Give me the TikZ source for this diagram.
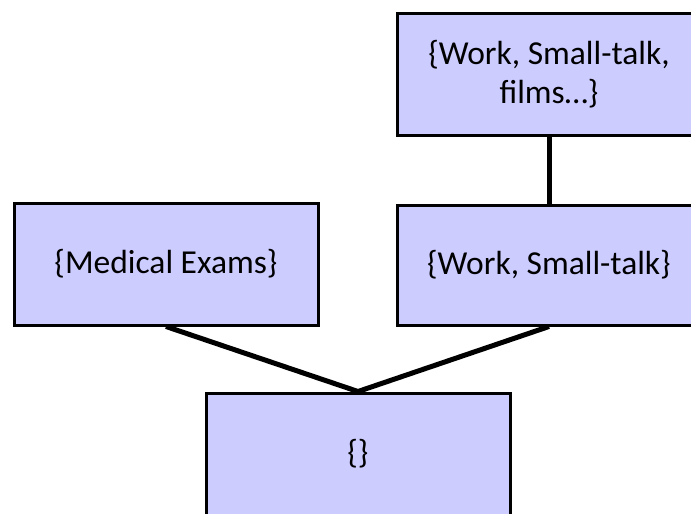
\documentclass[tikz,border=0pt]{standalone}
\usepackage{fontspec}
\setmainfont{Carlito}
\definecolor{setfill}{RGB}{204,204,255}
\begin{document}
\begin{tikzpicture}[x=1pt,y=-1pt,
  setbox/.style={draw=black, line width=3pt, fill=setfill, rectangle,
    minimum width=304pt, inner sep=0pt, align=center,
    font=\fontsize{33.5}{38.5}\selectfont},
  link/.style={line width=5pt, black}]
  \useasboundingbox (0,0) rectangle (691,514);
  \clip (0,0) rectangle (691,514);
  \node[setbox, minimum height=122pt] (films) at (549,74) {\{Work, Small-talk,\\films…\}};
  \node[setbox, minimum height=120pt] (work) at (549,265) {\{Work, Small-talk\}};
  \node[setbox, minimum height=122pt] (medical) at (166,264) {\{Medical Exams\}};
  \node[setbox, minimum height=122pt] (empty) at (358,454) {\{\}};
  \draw[link] (films.south) -- (work.north);
  \draw[link] (medical.south) -- (empty.north);
  \draw[link] (work.south) -- (empty.north);
\end{tikzpicture}
\end{document}
